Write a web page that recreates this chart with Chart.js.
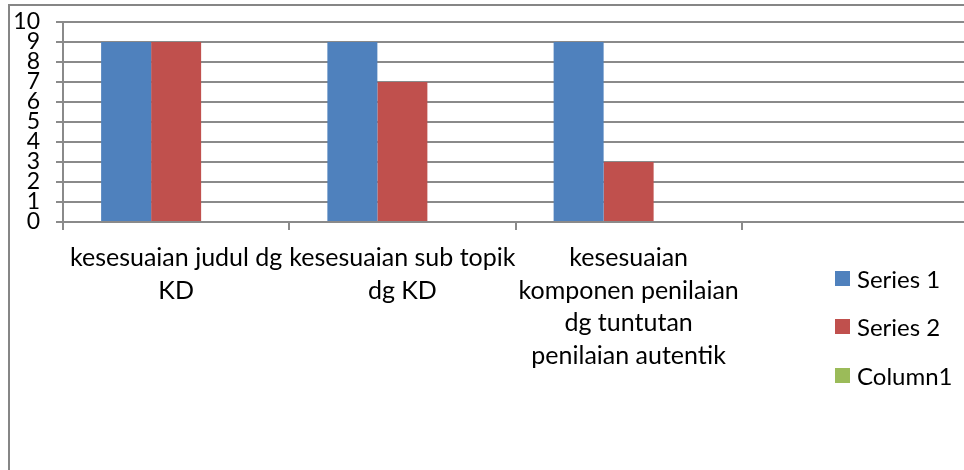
<!DOCTYPE html>
<html>
<head>
<meta charset="utf-8">
<script src="https://cdn.jsdelivr.net/npm/chart.js@4.4.1/dist/chart.umd.min.js"></script>
<style>
  body { margin: 0; overflow: hidden; background: #fff; font-family: Lato, "Open Sans", sans-serif; }
  #wrap { position: relative; width: 964px; height: 470px; overflow: hidden; }
  #frame { position: absolute; left: 8px; top: 4px; width: 1100px; height: 600px; border: 2px solid #868686; box-sizing: border-box; }
  #chart { position: absolute; left: 0; top: 0; }
  #legend { position: absolute; left: 835px; top: 254px; }
  .item { display: flex; align-items: center; height: 48.5px; font-size: 24px; color: #000; }
  .box { width: 15px; height: 15px; margin-right: 7px; }
</style>
</head>
<body>
<div id="wrap">
  <div id="frame"></div>
  <canvas id="chart" width="990" height="470"></canvas>
  <div id="legend"></div>
</div>
<script>
// data
const categories = [
    ["kesesuaian judul dg", "KD"],
    ["kesesuaian sub topik", "dg KD"],
    ["kesesuaian", "komponen penilaian", "dg tuntutan", "penilaian autentik"],
    ""
];
const series1 = [9, 9, 9, null];
const series2 = [9, 7, 3, null];
const column1 = [0, 0, 0, null];
const seriesNames = ["Series 1", "Series 2", "Column1"];
const seriesColors = ["#4f81bd", "#c0504d", "#9bbb59"];
const yTicks = [0, 1, 2, 3, 4, 5, 6, 7, 8, 9, 10];

const gridGray = '#8a8a8a';

const chart = new Chart(document.getElementById('chart'), {
    type: 'bar',
    data: {
        labels: categories,
        datasets: [series1, series2, column1].map((d, i) => ({
            label: seriesNames[i],
            data: d,
            backgroundColor: seriesColors[i],
            borderWidth: 0,
            categoryPercentage: 0.663,
            barPercentage: 1
        }))
    },
    options: {
        responsive: false,
        animation: false,
        layout: { padding: { top: 22, right: 22, left: 0, bottom: 0 } },
        plugins: { legend: { display: false }, tooltip: { enabled: false } },
        scales: {
            x: {
                grid: { drawOnChartArea: false, drawTicks: true, tickLength: 8, color: gridGray, lineWidth: 2, offset: true },
                border: { color: gridGray, width: 2 },
                ticks: {
                    color: '#000', padding: 12, maxRotation: 0, autoSkip: false,
                    font: { family: 'Lato', size: 25, lineHeight: '32.5px' }
                },
                afterFit: (scale) => {
                    scale.height = 248;
                    scale.paddingLeft = 0;
                    scale.paddingRight = 0;
                }
            },
            y: {
                min: 0, max: 10,
                afterBuildTicks: (scale) => { scale.ticks = yTicks.map(v => ({ value: v })); },
                grid: { color: gridGray, lineWidth: 2, tickLength: 7 },
                border: { color: gridGray, width: 2 },
                ticks: {
                    color: '#000', padding: 16, autoSkip: false,
                    font: { family: 'Lato', size: 23, lineHeight: 1 }
                },
                afterFit: (scale) => {
                    scale.width = 63;
                    scale.paddingTop = 0;
                    scale.paddingBottom = 0;
                }
            }
        }
    }
});

// legend as real text
const legend = document.getElementById('legend');
seriesNames.forEach((name, i) => {
    const row = document.createElement('div');
    row.className = 'item';
    row.innerHTML = '<div class="box" style="background:' + seriesColors[i] + '"></div><span>' + name + '</span>';
    legend.appendChild(row);
});
</script>
</body>
</html>
